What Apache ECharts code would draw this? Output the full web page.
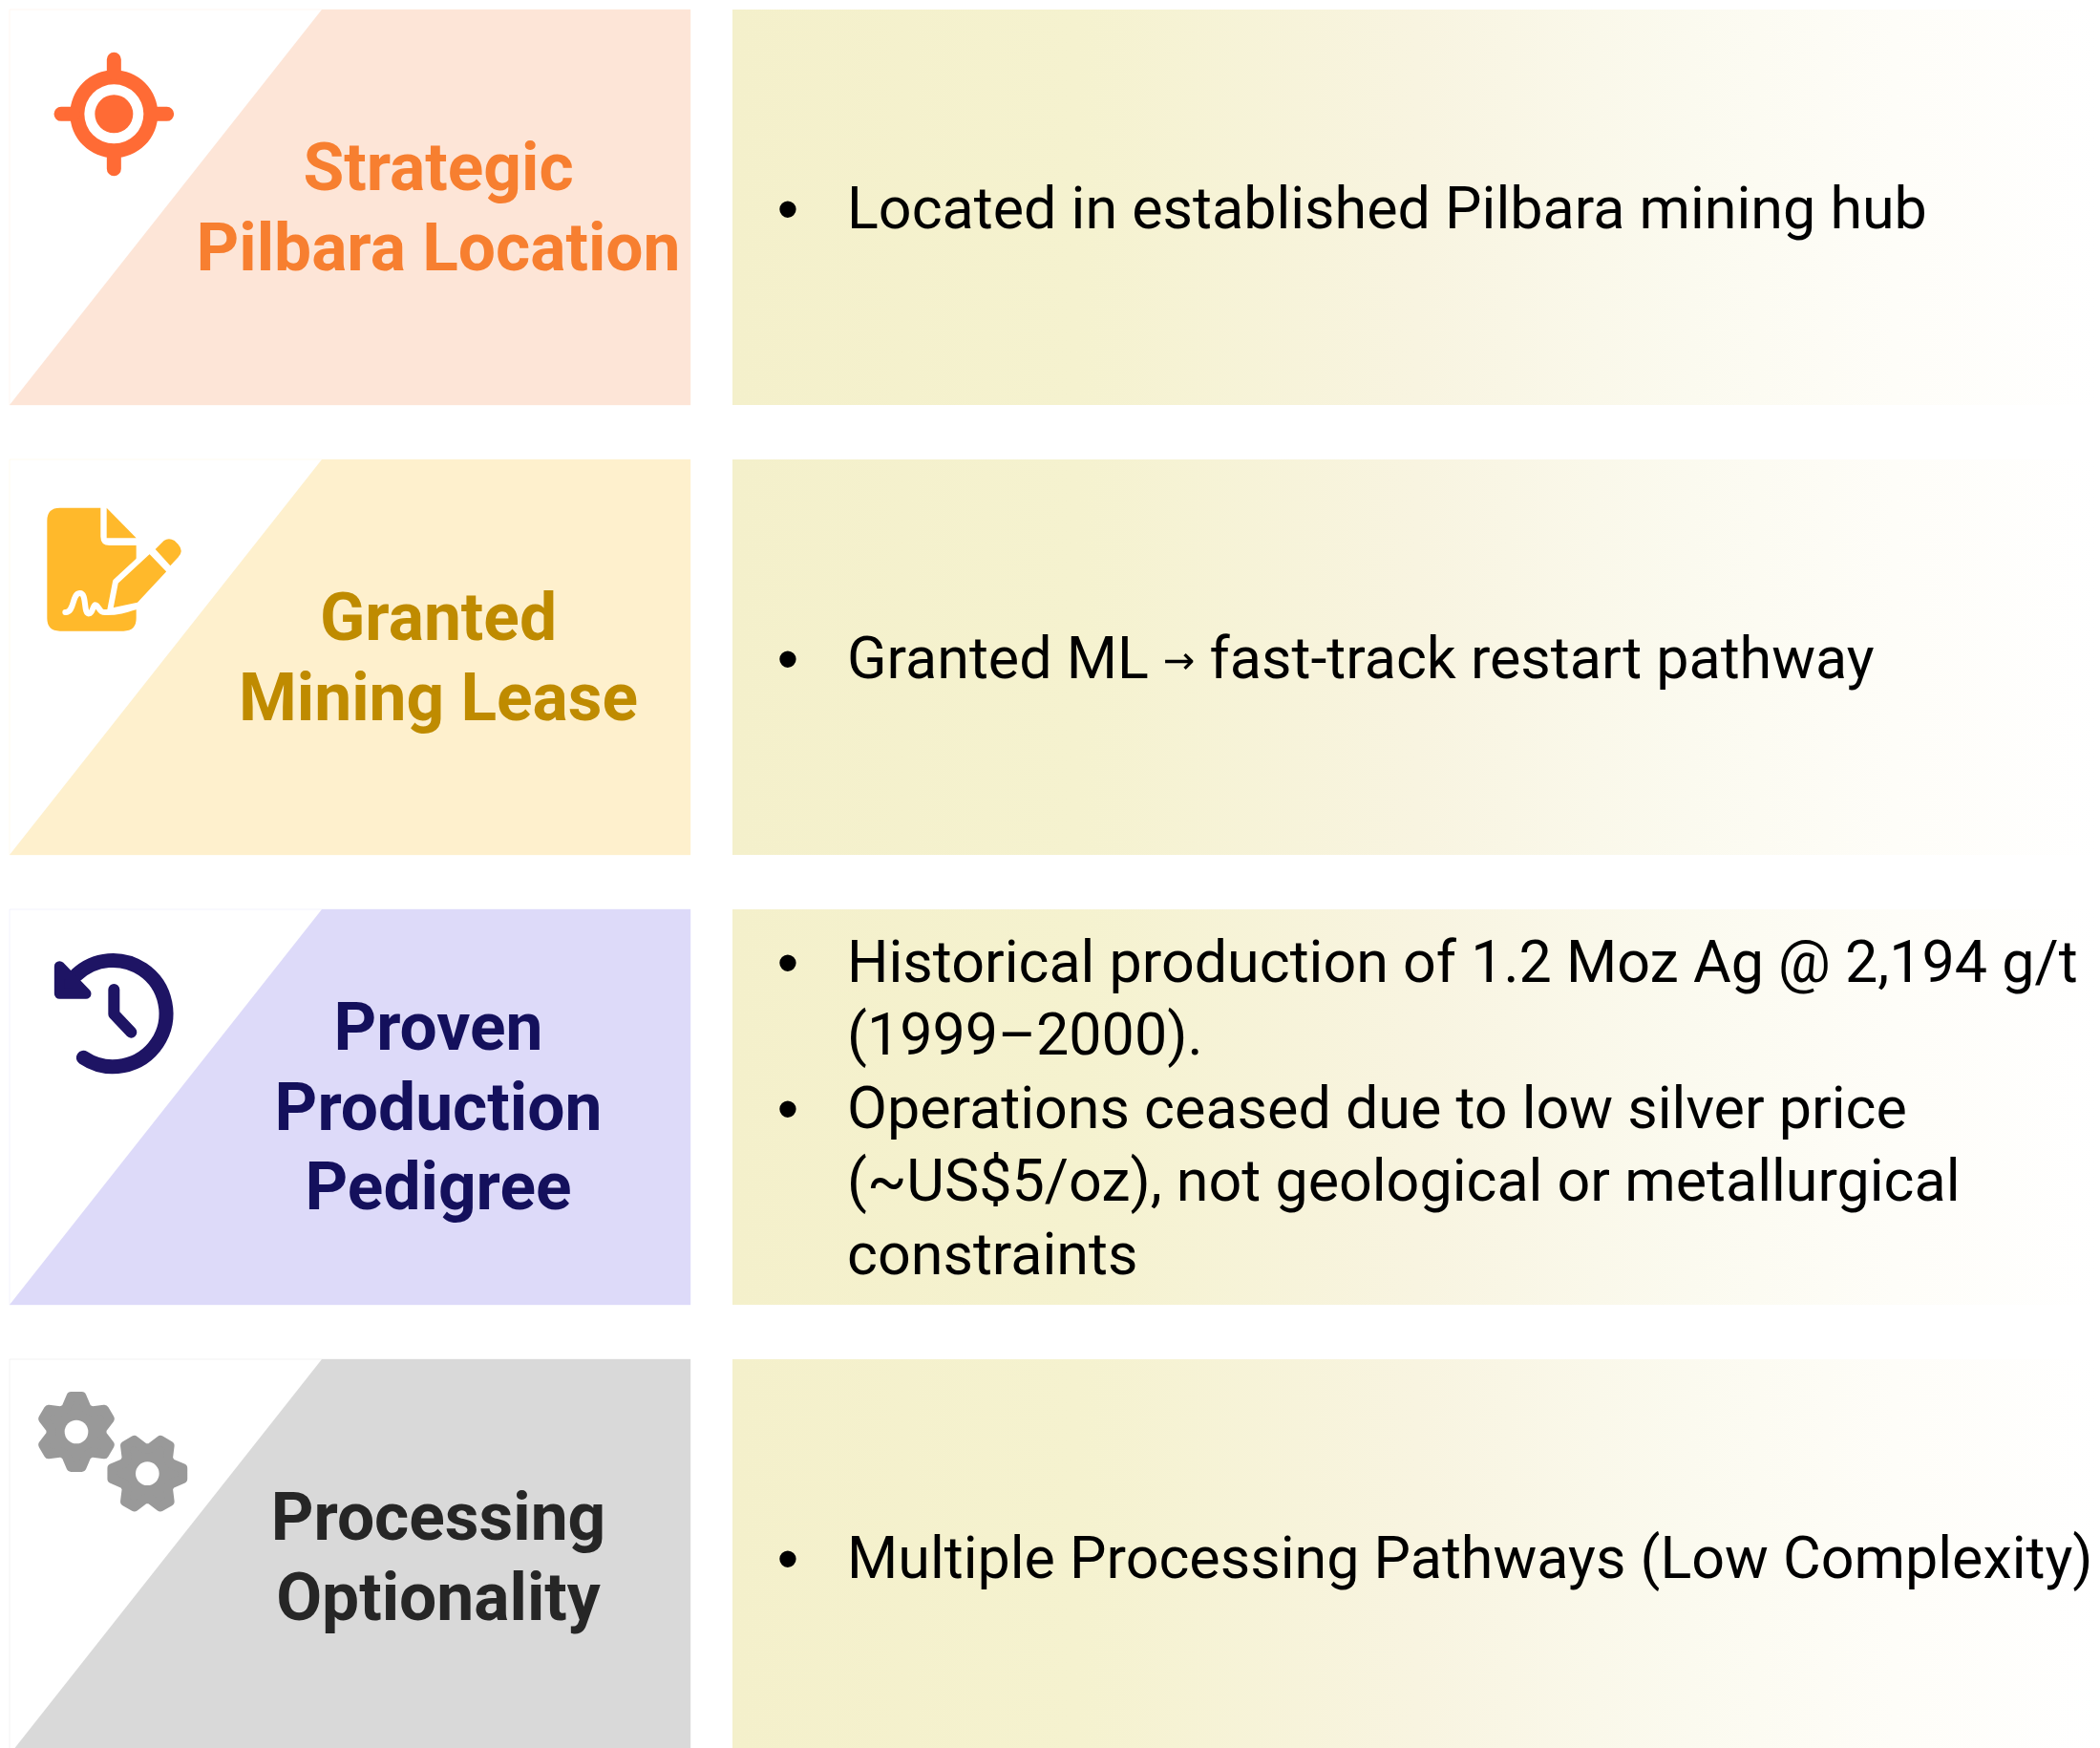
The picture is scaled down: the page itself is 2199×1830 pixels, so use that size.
<!DOCTYPE html>
<html>
<head>
<meta charset="utf-8">
<title>Project highlights</title>
<style>
  html, body { margin: 0; padding: 0; background: #fff; }
  #chart { width: 2199px; height: 1830px; }
</style>
<script src="https://cdn.jsdelivr.net/npm/echarts@6/dist/echarts.min.js"></script>
</head>
<body>
<div id="chart"></div>
<script>
// content of the four rows
const rowNames = ['Strategic Pilbara Location', 'Granted Mining Lease', 'Proven Production Pedigree', 'Processing Optionality']
const rowTitles = [
  ['Strategic', 'Pilbara Location'],
  ['Granted', 'Mining Lease'],
  ['Proven', 'Production', 'Pedigree'],
  ['Processing', 'Optionality']
]
const rowBullets = [
  [['Located in established Pilbara mining hub']],
  [['Granted ML → fast-track restart pathway']],
  [
    ['Historical production of 1.2 Moz Ag @ 2,194 g/t', '(1999–2000).'],
    ['Operations ceased due to low silver price', '(~US$5/oz), not geological or metallurgical', 'constraints']
  ],
  [['Multiple Processing Pathways (Low Complexity)']]
]
const panelColors = ['#FDE5D7', '#FEF0CD', '#DDDAF9', '#D9D9D9']
const titleColors = ['#F77F30', '#BF8B00', '#14105C', '#262626']
const iconColors = ['#FF6B35', '#FFB92B', '#1E1464', '#999999']

// layout, in page pixels
const panelHeight = 414
const leftPanel = { x0: 10, x1: 723, slantTop: 337 }
const rightPanel = { x0: 767, x1: 2199 }
const titleX = 459
const titleLine = 83.5
const titleOffset = 6.5
const bulletX = 825
const bodyX = 887
const bodyLine = 76.5
const bodyOffset = 6.5
const iconX = 30
const iconTops = [30, 34, 28, 17]
const iconScale = 1 / 3

function circle(cx, cy, r) {
  return `M${cx - r} ${cy}A${r} ${r} 0 1 1 ${cx + r} ${cy}A${r} ${r} 0 1 1 ${cx - r} ${cy}Z`
}

// six toothed gear outline, rounded off by its stroke
function gear(cx, cy, rot) {
  const pts = []
  for (let i = 0; i < 6; i++) {
    const a = rot + i * Math.PI / 3
    ;[[-0.42, 80], [-0.15, 112], [0.15, 112], [0.42, 80]].forEach(([d, r]) => {
      pts.push((cx + r * Math.sin(a + d)).toFixed(1) + ' ' + (cy - r * Math.cos(a + d)).toFixed(1))
    })
  }
  return 'M' + pts.join('L') + 'Z'
}

// icons are sketched in a 3x box, one list of parts for each row
function iconParts(row) {
  const c = iconColors[row]
  if (row === 0) {
    return [
      { d: circle(268, 238, 138), fill: c },
      { d: circle(268, 238, 93), fill: '#fff' },
      { d: circle(268, 238, 60), fill: c },
      { d: 'M268 67V110M268 366V410M102 238H140M396 238H434', stroke: c, width: 15 }
    ]
  }
  if (row === 1) {
    return [
      { d: 'M98 50H226V140Q226 168 254 168H338V397Q338 437 298 437H98Q58 437 58 397V90Q58 50 98 50Z', fill: c },
      { d: 'M245 50L338 145H245Z', fill: c },
      { d: 'M380 183L445 250L347 355L255 375L273 282Z', fill: c, stroke: '#fff', width: 6 },
      { d: 'M398 180L425 153Q440 142 458 153L470 165Q488 185 470 205L445 232Z', fill: c },
      { d: 'M115 378C145 380 135 320 160 318C185 316 170 385 190 382C205 380 200 345 215 358C225 370 225 380 245 378C280 378 300 372 340 360', stroke: '#fff', width: 6 }
    ]
  }
  if (row === 2) {
    return [
      { d: 'M172 382A167 167 0 1 0 150 122', stroke: c, width: 15 },
      { d: 'M97 95L180 181H97Z', fill: c, stroke: c, width: 11 },
      { d: 'M268 168V245L322 302', stroke: c, width: 12 }
    ]
  }
  return [
    { d: gear(150, 177, 0), fill: c, stroke: c, width: 10 },
    { d: circle(150, 177, 37), fill: '#fff' },
    { d: gear(373, 308, Math.PI / 6), fill: c, stroke: c, width: 10 },
    { d: circle(373, 308, 37), fill: '#fff' }
  ]
}

function renderRow(params, api) {
  const row = api.value(0)
  const cy = api.coord([0, row])[1]
  const top = cy - panelHeight / 2
  const bottom = cy + panelHeight / 2
  const children = []

  // left panel: faint box with the slanted fill on it
  children.push({
    type: 'rect',
    shape: { x: leftPanel.x0, y: top, width: leftPanel.x1 - leftPanel.x0, height: panelHeight },
    style: { fill: '#fff', stroke: panelColors[row], lineWidth: 1, opacity: 0.35 }
  })
  children.push({
    type: 'polygon',
    shape: { points: [[leftPanel.slantTop, top], [leftPanel.x1, top], [leftPanel.x1, bottom], [leftPanel.x0, bottom]] },
    style: { fill: panelColors[row] }
  })

  // right panel fades out to white
  children.push({
    type: 'rect',
    shape: { x: rightPanel.x0, y: top, width: rightPanel.x1 - rightPanel.x0, height: panelHeight },
    style: {
      fill: new echarts.graphic.LinearGradient(0, 0, 1, 0, [
        { offset: 0, color: '#F4F0CB' },
        { offset: 0.25, color: '#F5F2CF' },
        { offset: 0.5, color: '#F8F4E0' },
        { offset: 0.7, color: '#FBFAEF' },
        { offset: 0.85, color: '#FEFDF8' },
        { offset: 1, color: '#FFFFFF' }
      ])
    }
  })

  iconParts(row).forEach((part) => {
    children.push({
      type: 'path',
      layout: 'cover',
      shape: {
        // the two bare points hold the bounding box to the whole sketch box
        pathData: 'M0 0L0 0' + part.d + 'M540 510L540 510',
        x: iconX,
        y: top + iconTops[row],
        width: 540 * iconScale,
        height: 510 * iconScale
      },
      style: {
        fill: part.fill || 'none',
        stroke: part.stroke || null,
        lineWidth: part.width || 0,
        lineCap: 'round',
        lineJoin: 'round'
      }
    })
  })

  const titles = rowTitles[row]
  titles.forEach((line, i) => {
    children.push({
      type: 'text',
      style: {
        text: line,
        x: titleX,
        y: cy + (i - (titles.length - 1) / 2) * titleLine + titleOffset,
        align: 'center',
        verticalAlign: 'middle',
        font: 'bold 69.5px Roboto',
        fill: titleColors[row]
      }
    })
  })

  const total = rowBullets[row].reduce((n, b) => n + b.length, 0)
  let lineNo = 0
  rowBullets[row].forEach((bullet) => {
    bullet.forEach((line, j) => {
      const y = cy + (lineNo - (total - 1) / 2) * bodyLine + bodyOffset
      if (j === 0) {
        children.push({
          type: 'text',
          style: { text: '•', x: bulletX, y: y, align: 'center', verticalAlign: 'middle', font: '64px "Liberation Sans"', fill: '#000' }
        })
      }
      children.push({
        type: 'text',
        style: {
          // the arrow is set smaller than the words around it
          text: line.replace('→', '{arrow|→}'),
          x: bodyX,
          y: y,
          align: 'left',
          verticalAlign: 'middle',
          font: '61px Roboto',
          fill: '#000',
          rich: { arrow: { font: '40px "DejaVu Sans"', fill: '#000' } }
        }
      })
      lineNo++
    })
  })

  return { type: 'group', children: children }
}

const chart = echarts.init(document.getElementById('chart'), null, { renderer: 'canvas' })
chart.setOption({
  backgroundColor: '#fff',
  animation: false,
  grid: { left: 0, top: 0, right: 0, bottom: 0 },
  xAxis: { type: 'value', min: 0, max: 2199, show: false },
  // rows sit 471px apart with the first one centred at 217px, the last runs off the page
  yAxis: { type: 'value', inverse: true, min: -217 / 471, max: (1830 - 217) / 471, show: false },
  series: [
    {
      type: 'custom',
      coordinateSystem: 'cartesian2d',
      clip: false,
      silent: true,
      encode: { y: 0 },
      data: rowNames.map((name, i) => [i]),
      renderItem: renderRow
    }
  ]
})
</script>
</body>
</html>
